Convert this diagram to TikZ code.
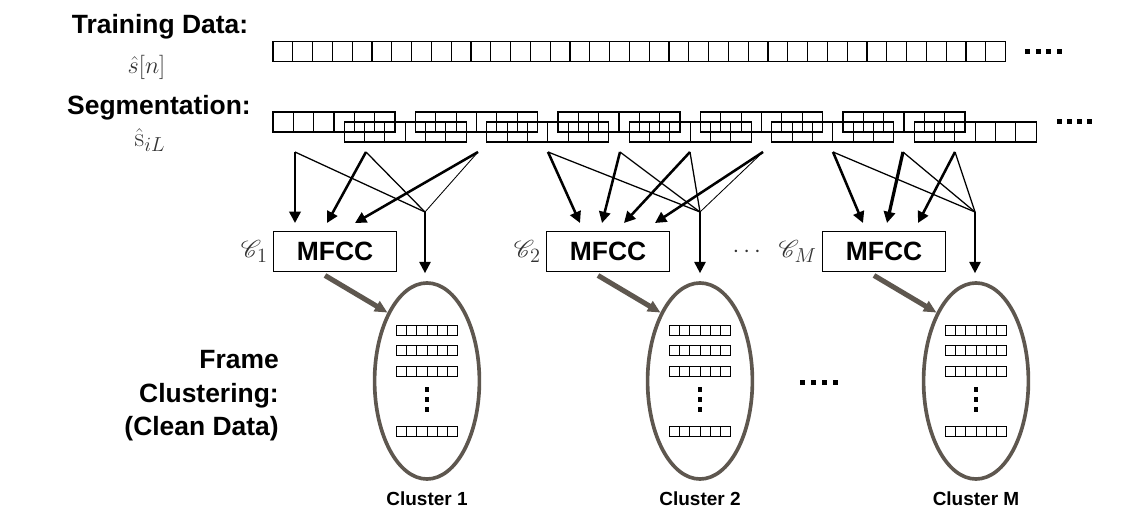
\documentclass[tikz,border=0pt]{standalone}
\usepackage{amsmath}
\usepackage{mathrsfs}
\usepackage{fontspec}
\setsansfont{Liberation Sans}
\usetikzlibrary{arrows.meta,positioning,shapes.geometric}
\definecolor{cgrey}{rgb}{0.37,0.34,0.31}

\begin{document}
\begin{tikzpicture}[x=0.025cm,y=-0.025cm,>={Triangle[length=8pt,width=8pt]},
  label node/.style={font=\sffamily\bfseries\fontsize{18.8}{23.9}\selectfont,inner sep=0pt},
  math node/.style={font=\fontsize{19}{23}\selectfont,text=black!80,inner sep=0pt},
  cell/.style={draw,line width=0.8pt},
  small cell/.style={draw,line width=0.7pt},
  mfcc node/.style={draw,line width=0.8pt,minimum width=3.08cm,minimum height=1cm,
    inner sep=0pt,font=\sffamily\bfseries\fontsize{18.8}{22}\selectfont},
  cluster node/.style={ellipse,draw=cgrey,line width=2.6pt,minimum width=2.62cm,
    minimum height=4.9cm,inner sep=0pt},
  thick arrow/.style={->,line width=1.8pt},
  thin line/.style={line width=0.9pt},
  mid arrow/.style={->,line width=1.4pt,shorten >=0.2cm},
  grey arrow/.style={-{Triangle[length=9pt,width=8pt]},draw=cgrey,line width=3.6pt}]
  \useasboundingbox (0,0) rectangle (1140,511);

  \node[label node,anchor=base] (td) at (160,33.3) {Training Data:};
  \node[math node] (sn) at (146.5,67) {$\hat{s}[n]$};
  \node[label node,anchor=base] (sg) at (159,115) {Segmentation:};
  \node[math node] (si) at (150,140) {$\hat{\mathrm{s}}_{iL}$};
  \node[label node,align=right,anchor=north east] (fc) at (279,350) {Frame\\Clustering:\\(Clean Data)};

  % training data
  \foreach \i in {0,...,36}
    \draw[cell] (273+\i*19.8,41.7) rectangle ++(19.8,20);
  \foreach \i in {0,...,3}
    \fill (1025+\i*10.5,49.5) rectangle ++(5,5);

  % overlapping frames
  \foreach \k in {0,...,4}
    \foreach \i in {0,...,5} {
      \draw[cell] (273+\k*142.5+\i*20.33,112) rectangle ++(20.33,20);
      \draw[cell] (344.25+\k*142.5+\i*20.33,122) rectangle ++(20.33,20);
    }
  \foreach \i in {0,...,3}
    \fill (1057+\i*10,119) rectangle ++(5,5);

  \foreach \cx/\nm in {427/1,700/2,976/M} {
    \node[cluster node] (e\nm) at (\cx,381) {};
    \node[mfcc node] (m\nm) at (\cx-92,251.7) {MFCC};
    \foreach \dy in {325,345.7,366.3,426.7}
      \foreach \i in {0,...,5}
        \draw[small cell] (\cx-30.3+\i*10.1,\dy) rectangle ++(10.1,10);
    \foreach \dy in {387,397,407}
      \fill (\cx-2.3,\dy) rectangle ++(4.7,4.7);
    \draw[grey arrow] ([xshift=-0.25cm,yshift=-0.08cm]m\nm.south) -- (e\nm.120);
    \node[font=\sffamily\bfseries\fontsize{13.5}{16}\selectfont,anchor=base] (l\nm) at (\cx,505) {Cluster \nm};
  }
  \node[math node,left=0.12cm of m1] (k1) {$\mathscr{C}_1$};
  \node[math node,left=0.12cm of m2] (k2) {$\mathscr{C}_2$};
  \node[math node,left=0.12cm of mM] (kM) {$\cdots\;\;\mathscr{C}_M$};
  \foreach \i in {0,...,3}
    \fill (800+\i*11,380) rectangle ++(5,5);

  \coordinate (a1) at (295,152); \coordinate (a2) at (366,152); \coordinate (a3) at (478,152);
  \coordinate (t1) at (295,223); \coordinate (t2) at (327,223); \coordinate (t3) at (355,223);
  \coordinate (j1) at (425,212);
  \coordinate (b1) at (548,152); \coordinate (b2) at (620,152);
  \coordinate (b3) at (690,152); \coordinate (b4) at (763,152);
  \coordinate (u1) at (580,223); \coordinate (u2) at (602,223);
  \coordinate (u3) at (624,223); \coordinate (u4) at (655,223);
  \coordinate (j2) at (700,212);
  \coordinate (d1) at (833,152); \coordinate (d2) at (903,152); \coordinate (d3) at (955,152);
  \coordinate (v1) at (863,223); \coordinate (v2) at (887,223); \coordinate (v3) at (918,223);
  \coordinate (j3) at (975,212);

  \path[thin line]
    (a1) edge (j1) (a2) edge (j1) (a3) edge[line width=0.6pt] (j1)
    (b1) edge (j2) (b2) edge (j2) (b3) edge (j2) (b4) edge[line width=0.6pt] (j2)
    (d1) edge (j3) (d2) edge (j3) (d3) edge (j3);
  \path[thick arrow]
    (a1) edge (t1) (a2) edge (t2) (a3) edge (t3)
    (b1) edge (u1) (b2) edge (u2) (b3) edge (u3) (b4) edge (u4)
    (d1) edge (v1) (d2) edge[line width=2.3pt] (v2) (d3) edge (v3);
  \draw[mid arrow] (j1) -- (j1 |- e1.north);
  \draw[mid arrow] (j2) -- (j2 |- e2.north);
  \draw[mid arrow] (j3) -- (j3 |- eM.north);
\end{tikzpicture}
\end{document}
